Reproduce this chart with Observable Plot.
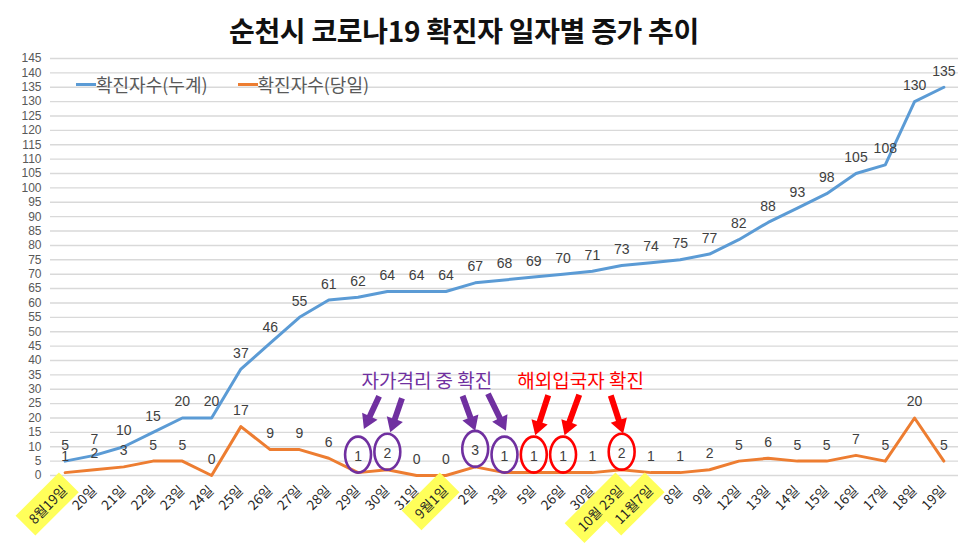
<!DOCTYPE html>
<html><head><meta charset="utf-8">
<script src="https://cdn.jsdelivr.net/npm/d3@7"></script>
<script src="https://cdn.jsdelivr.net/npm/@observablehq/plot@0.6"></script>
<style>
body{margin:0;background:#fff;}
#wrap{position:relative;width:970px;height:546px;overflow:hidden;background:#fff;font-family:"Liberation Sans","Noto Sans CJK KR",sans-serif;}
#title{height:50px;box-sizing:border-box;padding-top:16px;text-align:center;font-family:"Noto Sans CJK KR",sans-serif;font-weight:700;font-size:28px;line-height:1;color:#111;position:relative;left:-21px;letter-spacing:-0.3px;}
#legend{position:absolute;top:73px;left:76px;display:flex;align-items:center;font-family:"Noto Sans CJK KR",sans-serif;font-size:18px;color:#595959;line-height:22px;}
#legend .sw{display:inline-block;width:20px;height:3px;}
#legend .item{display:flex;align-items:center;margin-right:30px;}
</style></head>
<body><div id="wrap">
<div id="title">순천시 코로나19 확진자 일자별 증가 추이</div>
<div id="chart"></div>
<div id="legend"></div>
</div>
<script>
const xLabels = ["8월19일","20일","21일","22일","23일","24일","25일","26일","27일","28일","29일","30일","31일","9월1일","2일","3일","5일","26일","30일","10월 23일","11월7일","8일","9일","12일","13일","14일","15일","16일","17일","18일","19일"];
const cumulative = [5,7,10,15,20,20,37,46,55,61,62,64,64,64,67,68,69,70,71,73,74,75,77,82,88,93,98,105,108,130,135];
const daily = [1,2,3,5,5,0,17,9,9,6,1,2,0,0,3,1,1,1,1,2,1,1,2,5,6,5,5,7,5,20,5];
const highlighted = ["8월19일","9월1일","10월 23일","11월7일"];
const seriesNames = ["확진자수(누계)","확진자수(당일)"];
const yTicks = d3.range(0, 146, 5);

// annotations: circled daily points, grouped
const quarantineIdx = [10, 11, 14, 15];   // 자가격리 중 확진
const overseasIdx = [16, 17, 19];          // 해외입국자 확진
const annoTexts = [
  {label: "자가격리 중 확진", x: 12.35, y: 32.4, color: "#7030a0"},
  {label: "해외입국자 확진", x: 17.6, y: 32.4, color: "#ff0000"}
];
// arrows: tip at (x, y) in data units, pointing angle (deg, clockwise from up), length
const arrows = [
  {x: 10.2, y: 16.2, angle: 205, len: 36, color: "#7030a0"},
  {x: 11.1, y: 15.0, angle: 199, len: 36, color: "#7030a0"},
  {x: 14.0, y: 15.6, angle: 160, len: 37, color: "#7030a0"},
  {x: 15.05, y: 15.6, angle: 154, len: 41, color: "#7030a0"},
  {x: 16.05, y: 14.0, angle: 198, len: 42, color: "#ff0000"},
  {x: 17.05, y: 14.0, angle: 200, len: 43, color: "#ff0000"},
  {x: 19.05, y: 14.6, angle: 162, len: 40, color: "#ff0000"}
];

const colors = ["#5b9bd5", "#ed7d31"];
const idx = d3.range(xLabels.length);

const ellipse = {draw(ctx, size) {
  const r = Math.sqrt(size / Math.PI), rx = r * 0.72, ry = r, k = 0.5523;
  ctx.moveTo(rx, 0);
  ctx.bezierCurveTo(rx, ry * k, rx * k, ry, 0, ry);
  ctx.bezierCurveTo(-rx * k, ry, -rx, ry * k, -rx, 0);
  ctx.bezierCurveTo(-rx, -ry * k, -rx * k, -ry, 0, -ry);
  ctx.bezierCurveTo(rx * k, -ry, rx, -ry * k, rx, 0);
  ctx.closePath();
}};
const fatArrow = {draw(ctx, l) {
  const sw = 3, hw = 8.5, hl = 14;
  ctx.moveTo(-sw, 0); ctx.lineTo(-sw, -l + hl); ctx.lineTo(-hw, -l + hl);
  ctx.lineTo(0, -l); ctx.lineTo(hw, -l + hl); ctx.lineTo(sw, -l + hl);
  ctx.lineTo(sw, 0); ctx.closePath();
}};

const font = '"Liberation Sans","Noto Sans CJK KR",sans-serif';
const kfont = '"Noto Sans CJK KR",sans-serif';

const plot = Plot.plot({
  width: 970, height: 496,
  marginLeft: 50, marginRight: 12, marginTop: 8, marginBottom: 71,
  style: {fontFamily: font, background: "#fff", overflow: "visible"},
  x: {type: "linear", domain: [-0.5, xLabels.length - 0.5], axis: null},
  y: {domain: [0, 145], axis: null},
  length: {type: "identity"},
  marks: [
    Plot.gridY(yTicks, {stroke: "#d9d9d9", strokeOpacity: 1, strokeWidth: 1.4}),
    Plot.axisY(yTicks, {tickSize: 0, tickPadding: 9, fontSize: 12, fill: "#595959", fontFamily: font, label: null}),
    Plot.line(idx, {x: i => i, y: i => cumulative[i], stroke: colors[0], strokeWidth: 3}),
    Plot.line(idx, {x: i => i, y: i => daily[i], stroke: colors[1], strokeWidth: 3}),
    Plot.text(idx, {x: i => i, y: i => cumulative[i], text: i => String(cumulative[i]), dy: -16, fontSize: 14, fill: "#404040"}),
    Plot.text(idx, {x: i => i, y: i => daily[i], text: i => String(daily[i]), dy: -16, fontSize: 14, fill: "#404040"}),
    Plot.dot(quarantineIdx, {x: i => i, y: i => daily[i], dy: -18, r: 18, symbol: ellipse, stroke: "#7030a0", strokeWidth: 2.6, fill: "none"}),
    Plot.dot(overseasIdx, {x: i => i, y: i => daily[i], dy: -18, r: 18, symbol: ellipse, stroke: "#ff0000", strokeWidth: 2.6, fill: "none"}),
    Plot.vector(arrows, {x: "x", y: "y", rotate: "angle", length: "len", anchor: "end", shape: fatArrow, fill: "color", stroke: "none"}),
    Plot.text(annoTexts, {x: "x", y: "y", text: "label", fill: "color", fontSize: 19, fontFamily: kfont}),
    Plot.text(idx, {x: i => i, frameAnchor: "bottom", text: i => xLabels[i], rotate: -45, textAnchor: "end", dy: 16, dx: 3, fontSize: 13.5, fill: "#262626", fontFamily: kfont})
  ]
});
document.getElementById("chart").appendChild(plot);

// yellow highlight boxes behind selected x labels
const hi = new Set(highlighted);
d3.select(plot).selectAll("text").filter(function() { return hi.has(this.textContent); }).each(function() {
  const b = this.getBBox();
  const r = document.createElementNS("http://www.w3.org/2000/svg", "rect");
  r.setAttribute("x", b.x - 7); r.setAttribute("y", b.y - 4);
  r.setAttribute("width", b.width + 14); r.setAttribute("height", b.height + 8);
  r.setAttribute("fill", "#ffff5a");
  const t = this.getAttribute("transform");
  if (t) r.setAttribute("transform", t);
  this.parentNode.insertBefore(r, this);
});

const lg = document.getElementById("legend");
seriesNames.forEach((n, k) => {
  const it = document.createElement("div"); it.className = "item";
  const sw = document.createElement("span"); sw.className = "sw"; sw.style.background = colors[k];
  const tx = document.createElement("span"); tx.textContent = n;
  it.appendChild(sw); it.appendChild(tx); lg.appendChild(it);
});
</script>
</body></html>
